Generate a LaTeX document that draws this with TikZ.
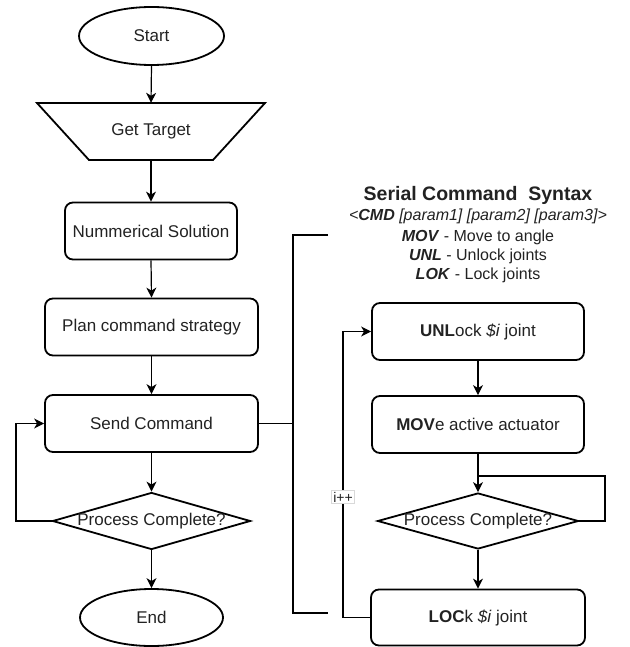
\documentclass[tikz,border=0pt]{standalone}
\usepackage{fontspec}
\setmainfont{Liberation Sans}
\usetikzlibrary{shapes.geometric,arrows.meta}
\definecolor{txt}{HTML}{222222}
\newcommand{\nodefnt}{\fontsize{17}{20}\selectfont}
\newcommand{\specfnt}{\fontsize{16}{19}\selectfont}
\newcommand{\titlefnt}{\fontsize{19.5}{23}\selectfont\bfseries}
\begin{document}
\begin{tikzpicture}[x=1pt,y=-1pt,
  shapeline/.style={draw=black, line width=1.8pt},
  box/.style={shapeline, rounded corners=8pt, minimum width=#1, minimum height=57pt, inner sep=0pt, font=\nodefnt, text=txt},
  term/.style={shapeline, ellipse, minimum width=#1, minimum height=58pt, inner sep=0pt, font=\nodefnt, text=txt},
  dia/.style={shapeline, diamond, minimum width=#1, minimum height=57pt, inner sep=0pt},
  lbl/.style={font=\nodefnt, text=txt, inner sep=0pt},
  spec/.style={font=\specfnt, text=txt, inner sep=0pt, anchor=base},
  arr/.style={line width=1.2pt, -{Stealth[length=10pt,width=10pt,inset=3pt]}},
  thin/.style={line width=1.2pt},
  bracket/.style={line width=1.8pt},
]
\useasboundingbox (0,0) rectangle (629,647);

% left column
\node[term=145pt] (start) at (151.5,36) {Start};
\node[lbl, minimum width=124pt, minimum height=57pt] (gt) at (151,131.5) {Get Target};
\draw[shapeline, line join=miter] (37,103) -- (265,103) -- (213,160) -- (89,160) -- cycle;
\node[box=172pt] (num) at (151,231) {Nummerical Solution};
\node[box=213pt] (plan) at (151.5,327) {Plan command strategy};
\node[box=213pt] (send) at (151.5,423.5) {Send Command};
\node[dia=198pt] (d1) at (151.5,521) {};
\node[lbl] (d1t) at (d1.center) {Process Complete?};
\node[term=143pt, minimum height=57pt] (end) at (151.5,617.5) {End};

\draw[arr] (start.south) -- (gt.north);
\draw[arr] (gt.south) -- (num.north);
\draw[arr] (num.south) -- (plan.north);
\draw[arr] (plan.south) -- (send.north);
\draw[arr] (send.south) -- (d1.north);
\draw[arr] (d1.south) -- (end.north);
\coordinate (l1) at (16,521);
\draw[arr] (d1.west) -- (l1) |- (send.west);

% bracket
\coordinate (bt) at (293,235);
\coordinate (bb) at (293,613);
\coordinate (btr) at (328,235);
\coordinate (bbr) at (328,613);
\draw[bracket] (send.east) -- (send.east -| bt);
\draw[bracket, line join=miter] (btr) -- (bt) -- (bb) -- (bbr);

% spec text
\node[spec, font=\titlefnt] (s1) at (478,200) {Serial Command\ \ Syntax};
\node[spec] (s2) at (478,220) {\itshape <\textbf{CMD} [param1] [param2] [param3]>};
\node[spec] (s3) at (478,241) {\textbf{\textit{MOV}} - Move to angle};
\node[spec] (s4) at (478,260) {\textbf{\textit{UNL}} - Unlock joints};
\node[spec] (s5) at (478,279) {\textbf{\textit{LOK}} - Lock joints};

% right column
\node[box=212pt] (unl) at (478,331.5) {\textbf{UNL}ock \textit{\$i} joint};
\node[box=212pt] (mov) at (478,424.5) {\textbf{MOV}e active actuator};
\node[dia=201pt, minimum height=56pt] (d2) at (478,521) {};
\node[lbl] (d2t) at (d2.center) {Process Complete?};
\node[box=214pt, minimum height=56pt] (lok) at (478,617.5) {\textbf{LOC}k \textit{\$i} joint};

\draw[arr] (unl.south) -- (mov.north);
\draw[arr] (mov.south) -- (d2.north);
\draw[arr] (d2.south) -- (lok.north);
\coordinate (r1) at (605,521);
\coordinate (r2) at (605,476);
\coordinate (r3) at (478,476);
\draw[thin] (d2.east) -- (r1) -- (r2) -- (r3);
\coordinate (il) at (343,617.5);
\draw[arr] (lok.west) -- (il) |- (unl.west);
\node[fill=white, draw=black!15, line width=0.6pt, inner sep=1.5pt, font=\fontsize{14}{16}\selectfont, text=txt] (ipp) at (343,497) {i++};
\end{tikzpicture}
\end{document}
